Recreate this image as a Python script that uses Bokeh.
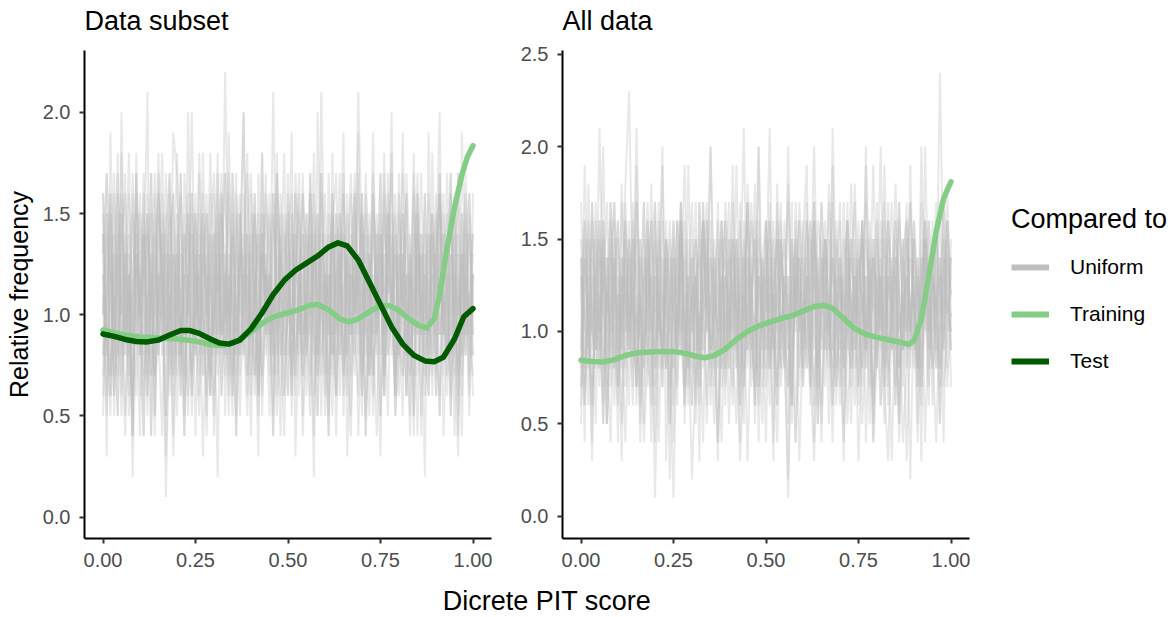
import numpy as np
from bokeh.plotting import figure
from bokeh.models import Range1d, FixedTicker, PrintfTickFormatter, Legend, LegendItem, Label
from bokeh.layouts import row, column
from bokeh.embed import file_html
from bokeh.resources import INLINE

# ---------------- data ----------------
# Uniform reference samples: relative frequency (in tenths) per PIT bin 0.00 .. 1.00
uniform_subset = [
    [6,14,9,16,11,5,13,8,17,10, 4,12,15,7,11,18,9,13,6,10, 15,8,12,5,14,11,17,7,10,13, 4,16,9,12,6,15,10,8,13,18, 7,11,14,5,12,9,16,10,6,13, 15,8,11,17,5,12,14,9,7,16, 10,4,13,11,15,7,12,17,9,6, 14,10,5,16,12,8,15,11,18,7, 10,13,6,14,9,16,5,12,11,15, 8,17,10,6,13,12,4,15,9,11, 14],
    [15,9,5,12,17,8,11,14,6,13, 10,16,7,12,4,15,11,9,17,8, 13,6,14,10,16,9,5,12,15,7, 11,18,8,13,10,6,14,16,9,5, 12,15,7,11,17,10,4,13,8,14, 12,6,16,9,11,15,7,13,5,17, 10,12,8,15,6,14,11,9,16,4, 12,15,7,10,13,5,17,9,11,14, 6,12,16,8,10,15,4,13,11,7, 16,9,14,12,5,10,17,8,13,6, 11],
    [11,5,16,8,13,10,17,6,12,15, 9,4,14,11,7,16,12,5,13,10, 18,8,11,15,6,13,9,16,4,12, 14,7,11,17,9,5,13,15,10,7, 16,12,6,14,9,11,4,17,13,8, 10,15,6,12,16,9,5,14,11,13, 7,17,10,6,15,12,8,4,14,11, 16,9,13,5,12,17,7,10,14,6, 15,11,8,13,4,16,10,12,7,18, 9,5,14,11,16,8,13,6,12,15, 10],
    [10,15,6,12,8,18,9,11,5,13, 10,8,14,12,7,11,16,9,10,4, 12,11,7,20,9,10,13,8,12,6, 11,14,9,10,17,8,12,5,11,13, 9,10,15,7,12,11,8,18,10,6, 12,9,14,11,7,10,13,9,5,12, 16,10,8,11,14,9,6,12,10,19, 8,11,13,7,10,12,9,15,11,5, 10,13,8,12,17,9,11,6,10,14, 12,9,11,8,16,10,7,13,11,9, 12],
    [8,11,13,7,16,10,4,12,9,14, 11,6,10,17,9,12,8,11,13,3, 10,14,9,12,7,11,15,10,8,12, 9,13,6,11,10,14,8,12,20,9, 11,7,10,13,12,8,11,9,15,10, 6,12,11,9,14,8,10,13,11,7, 12,9,16,10,8,11,13,5,12,10, 9,14,11,7,12,10,18,8,11,9, 13,10,6,12,11,9,14,8,10,12, 15,9,11,7,10,13,9,12,8,11, 6],
    [12,9,6,14,10,11,8,13,2,10, 16,9,11,7,12,10,14,1,11,9, 13,8,12,10,6,15,9,11,13,8, 10,12,9,22,11,7,10,13,8,12, 9,11,14,6,10,12,9,16,11,8, 10,13,7,12,9,11,14,10,8,21, 11,9,12,6,13,10,8,12,11,9, 15,10,7,12,9,11,13,8,10,14, 9,12,11,7,10,13,9,11,8,12, 10,16,9,11,7,12,10,13,9,11, 8],
    [13,17,7,11,5,14,9,16,10,6, 15,12,8,17,5,11,14,9,13,16, 7,10,4,15,12,8,18,11,6,14, 9,13,16,5,12,10,7,15,11,17, 8,14,6,13,10,16,9,5,12,15, 11,7,17,13,4,10,16,8,14,12, 6,15,9,11,17,5,13,10,7,16, 12,4,14,9,11,15,6,17,10,13, 8,15,11,5,12,17,9,14,6,10, 13,16,7,11,15,4,12,9,17,8, 12],
    [14,3,19,10,5,20,9,11,4,18, 8,12,21,4,11,17,10,3,9,19, 17,10,4,11,20,9,12,3,10,18, 11,2,16,8,19,10,4,13,20,7, 15,10,3,18,11,9,21,10,4,12, 11,19,3,10,17,8,11,2,20,10, 9,4,18,8,12,19,3,9,11,21, 13,4,10,19,9,3,16,11,20,5, 8,19,10,4,18,7,11,2,19,8, 13,20,4,10,17,8,3,19,11,10, 14],
    [7,11,15,5,13,16,9,12,4,17, 10,14,6,11,15,8,13,5,16,12, 9,17,7,11,14,4,12,15,10,6, 16,9,13,11,5,17,8,14,10,12, 4,15,11,7,16,13,9,6,14,10, 17,5,12,15,8,11,16,6,10,14, 13,7,16,4,12,10,15,9,17,11, 5,13,8,16,10,14,6,12,15,9, 17,7,11,13,5,14,10,16,8,12, 6,15,9,13,17,7,11,4,14,16, 9],
    [16,8,12,6,15,10,13,5,11,17, 8,14,12,4,16,9,11,15,7,13, 10,17,5,12,15,9,7,14,11,16, 6,10,13,17,8,12,5,15,9,14, 11,6,17,10,13,7,15,12,9,4, 14,16,8,11,13,6,17,10,15,9, 12,5,14,11,8,16,7,13,10,17, 6,12,15,9,4,14,11,16,8,13, 10,5,17,12,7,15,9,11,14,6, 13,16,10,8,12,15,5,11,14,9, 7],
    [14,6,11,17,8,13,5,10,15,9, 12,4,16,10,7,13,18,8,11,6, 14,9,12,16,5,10,13,7,15,11, 8,17,6,12,10,14,4,11,16,9, 13,7,10,18,8,12,5,14,11,9, 16,6,13,10,8,15,11,4,12,17, 9,14,7,10,13,6,16,11,8,12, 15,5,10,14,9,17,7,12,11,6, 13,10,16,8,12,4,14,11,9,15, 7,13,10,17,6,11,14,8,12,5, 16],
    [5,12,16,9,14,7,11,18,6,13, 10,15,8,12,17,9,4,14,11,7, 13,16,10,6,12,15,8,11,5,14, 17,9,12,7,13,10,16,8,11,14, 6,12,9,15,11,5,13,17,8,10, 14,7,12,16,9,11,6,13,15,8, 10,12,5,14,9,17,11,7,13,10, 16,8,12,6,14,11,9,15,13,7, 10,17,8,12,5,14,11,9,16,10, 13,6,15,8,12,10,17,7,11,14, 9],
    [16,9,7,13,11,15,8,12,4,14, 10,17,6,11,13,9,15,12,8,16, 5,11,14,10,7,13,9,18,11,6, 12,15,9,10,16,7,13,11,8,14, 17,10,5,12,15,9,11,7,16,13, 8,10,14,6,12,9,17,11,13,5, 14,10,8,15,12,7,11,16,9,13, 6,12,10,17,8,14,11,5,13,15, 9,7,12,11,16,10,13,8,6,14, 11,17,9,12,5,15,10,13,8,16, 11],
    [10,17,13,6,9,15,12,7,16,11, 8,14,5,13,10,16,12,9,15,7, 11,6,17,13,10,8,14,12,16,9, 5,11,15,13,7,17,9,12,14,6, 10,16,8,13,11,15,7,9,12,18, 6,14,10,8,16,13,9,15,7,11, 12,6,14,17,10,8,13,9,15,11, 7,16,12,10,14,5,9,13,17,8, 12,15,6,11,14,10,8,16,9,13, 12,5,11,15,9,14,7,12,16,10, 13],
    [12,8,15,10,18,6,14,11,9,16, 13,7,10,15,5,12,9,14,17,10, 8,13,6,11,16,12,9,15,10,7, 14,11,17,8,12,6,15,10,13,9, 11,16,7,14,10,12,8,15,13,6, 11,9,16,12,7,14,10,18,8,13, 5,11,15,9,12,16,8,14,10,13, 7,17,11,9,15,12,6,13,10,16, 8,11,14,7,13,10,17,9,12,15, 6,14,10,12,8,16,11,9,15,7, 12],
    [8,15,12,10,7,14,16,9,11,13, 6,12,15,9,14,8,11,17,10,13, 12,7,15,11,9,16,6,13,10,14, 12,8,15,11,9,13,17,7,12,10, 14,11,6,15,9,12,16,8,13,11, 10,15,7,12,14,9,11,16,8,13, 12,10,15,6,11,14,9,13,16,8, 11,12,7,15,10,13,9,14,11,6, 16,10,12,8,15,11,13,7,14,10, 9,12,16,8,13,11,6,15,10,14, 8],
]

uniform_all = [
    [12,6,15,9,17,11,5,14,8,13, 16,10,4,12,15,7,11,17,9,6, 14,12,8,16,5,13,10,15,7,12, 17,9,11,4,14,16,8,10,13,6, 15,12,9,17,7,11,14,5,13,10, 16,8,12,6,15,11,9,17,4,13, 10,14,7,16,12,5,11,15,9,13, 6,17,10,8,14,12,16,4,11,15, 9,13,7,12,17,10,5,14,11,8, 16,12,6,15,9,13,11,17,7,10, 14],
    [8,16,11,4,13,15,7,12,17,9, 6,14,10,16,8,12,5,15,11,13, 7,17,9,14,12,4,16,10,6,15, 11,13,8,17,5,12,14,9,16,7, 10,15,12,4,13,17,8,11,6,14, 16,9,12,15,7,10,13,5,17,11, 8,14,16,6,12,9,15,11,4,13, 17,7,10,14,12,6,16,9,13,5, 15,11,8,17,12,10,6,14,16,9, 11,4,13,15,8,12,17,7,10,14, 12],
    [14,10,6,17,12,8,15,5,11,16, 9,13,7,15,11,17,4,12,14,10, 6,16,13,8,11,15,9,17,5,12, 14,7,10,16,13,6,11,15,8,12, 17,9,5,14,10,16,12,7,13,11, 4,15,9,13,17,8,12,6,14,10, 16,11,7,15,5,13,12,17,9,10, 14,8,16,11,6,13,15,9,12,4, 10,16,14,7,11,13,5,15,9,17, 12,8,14,10,16,6,12,13,4,15, 11],
    [6,14,10,17,9,12,5,11,15,8, 13,10,18,23,11,7,12,9,16,10, 4,12,9,14,8,1,11,13,7,19, 10,12,6,11,15,9,10,3,13,11, 8,17,10,12,5,14,9,11,20,8, 12,10,15,7,11,9,2,13,10,16, 8,12,11,4,14,10,9,18,12,7, 11,13,5,10,15,9,12,8,11,19, 10,6,13,11,9,14,8,12,3,10, 15,11,9,16,12,8,10,24,13,11, 12],
    [13,8,11,6,12,10,16,9,4,13, 11,8,14,10,12,7,15,11,9,13, 1,10,14,8,12,11,9,16,10,6, 13,11,8,17,10,12,9,14,7,11, 10,15,8,12,21,9,11,6,13,10, 14,8,12,10,16,9,1,11,13,8, 12,17,10,7,11,14,9,12,6,10, 13,8,15,11,9,12,5,10,14,11, 8,13,10,16,12,7,11,9,15,10, 12,8,14,4,11,13,9,10,12,7, 11],
    [5,13,16,10,8,14,12,17,7,11, 15,9,13,6,16,10,12,8,14,4, 17,11,9,15,13,6,12,16,10,8, 14,5,17,11,12,15,7,9,13,16, 10,6,14,12,8,17,11,15,4,13, 9,16,10,7,14,12,5,15,11,17, 13,8,10,16,6,14,12,9,17,11, 7,15,13,5,12,10,16,8,14,11, 17,6,12,15,9,13,4,11,16,10, 14,8,17,12,6,15,10,13,9,16, 7],
    [17,10,13,7,11,15,6,14,9,12, 16,5,11,14,9,17,12,7,15,10, 13,8,16,11,5,14,12,17,9,13, 6,15,10,12,16,8,14,4,11,17, 13,9,15,6,12,10,16,14,7,11, 15,12,4,17,9,13,11,6,16,10, 14,8,12,17,5,11,15,13,6,16, 10,12,9,14,17,7,11,13,5,15, 12,10,16,8,14,6,17,11,13,9, 15,5,12,16,10,14,8,11,17,13, 9],
    [14,4,18,10,9,21,11,5,13,17, 12,3,17,11,7,19,10,4,9,18, 8,11,20,3,12,16,7,12,19,10, 2,8,17,9,11,20,10,4,12,15, 9,19,10,3,8,18,14,6,20,11, 7,12,3,18,11,8,20,9,4,10, 15,19,8,3,10,17,13,5,21,12, 10,4,9,18,12,3,10,19,11,6, 12,20,7,3,11,18,12,4,8,19, 10,13,3,20,11,8,14,5,12,18, 9],
    [10,15,8,13,5,16,11,9,14,17, 7,12,16,10,13,6,15,9,11,14, 17,4,12,15,10,8,16,13,6,11, 15,12,9,14,17,10,5,13,16,8, 12,15,11,6,14,9,17,12,10,5, 13,16,8,12,15,10,7,14,11,16, 9,13,6,15,12,17,10,8,14,11, 16,5,13,12,9,15,11,17,7,14, 12,9,15,6,13,16,10,12,8,15, 11,14,7,16,10,13,12,5,15,11, 13],
    [7,19,11,3,15,10,20,8,11,14, 4,18,12,9,11,21,10,5,15,11, 9,12,19,11,2,14,9,17,11,8, 10,13,3,16,11,20,12,10,4,13, 11,10,19,8,12,3,11,18,10,7, 12,21,9,4,10,12,18,11,13,3, 10,16,12,20,11,4,13,9,19,7, 11,3,14,9,18,11,8,20,10,4, 9,11,19,10,3,12,17,9,13,2, 12,8,20,11,14,9,4,11,17,10, 11],
    [15,7,12,10,16,9,13,5,11,14, 8,17,10,12,6,15,11,9,13,7, 16,10,12,8,14,11,6,15,9,13, 10,17,7,12,14,9,11,16,8,13, 5,12,15,10,7,14,11,9,16,12, 8,13,10,6,15,11,17,9,12,14, 7,10,13,16,8,11,15,9,12,6, 14,10,17,8,13,11,7,15,12,9, 16,10,5,13,11,14,8,12,17,10, 13,7,15,11,9,16,12,8,14,11, 10],
    [9,14,11,6,13,16,8,12,10,15, 7,11,14,9,17,12,6,13,10,16, 8,15,11,12,7,14,9,16,13,10, 6,12,15,8,11,14,10,17,9,13, 12,7,15,10,14,8,11,16,12,9, 13,6,14,11,8,16,10,12,15,7, 11,13,9,17,12,6,14,10,15,8, 12,11,16,9,13,7,15,11,10,14, 8,12,17,9,11,6,13,15,10,12, 9,14,7,11,16,13,10,8,15,12, 14],
    [12,16,8,14,10,7,15,11,13,6, 12,9,16,10,14,8,11,17,7,13, 15,11,9,12,16,8,14,10,12,7, 13,15,9,11,6,14,12,10,16,8, 15,11,13,9,12,17,7,10,14,11, 16,8,12,15,10,13,9,6,14,12, 10,16,8,13,11,15,7,12,14,10, 9,13,16,11,8,14,12,10,15,7, 13,11,9,16,12,14,8,10,13,17, 11,9,12,15,7,13,11,14,10,16, 12],
    [10,6,13,15,9,11,14,7,16,12, 10,13,8,15,11,9,14,12,17,8, 13,10,7,15,12,11,16,9,14,8, 12,6,13,16,10,11,15,8,12,14, 9,13,11,7,16,10,12,15,8,14, 11,17,9,12,13,10,7,15,11,14, 9,12,16,10,8,13,15,11,7,12, 14,9,11,15,10,16,8,13,12,6, 11,14,10,13,9,16,12,7,15,11, 8,13,10,14,12,9,16,11,13,8, 15],
    [13,11,9,16,12,8,14,10,17,11, 7,14,12,9,15,13,10,8,16,12, 11,14,7,13,10,16,12,9,15,11, 8,13,14,10,16,7,12,11,15,9, 14,12,8,16,11,13,10,7,15,12, 9,14,11,16,8,12,13,10,15,11, 7,13,12,9,16,14,10,11,8,15, 12,10,14,7,13,11,16,9,12,14, 10,15,8,13,11,9,16,12,10,14, 11,7,13,15,10,12,8,14,11,16, 13],
    [7,12,15,10,13,9,16,11,14,8, 12,10,15,13,9,11,7,14,12,16, 10,13,8,12,15,11,9,14,16,10, 12,13,7,15,11,9,13,12,10,16, 8,14,11,12,15,9,13,10,7,14, 12,11,16,9,13,15,10,8,12,14, 11,9,15,13,7,12,16,10,14,11, 13,8,12,15,10,14,11,9,16,12, 10,13,7,14,11,15,12,9,13,10, 16,11,8,14,12,10,15,13,9,12, 10],
]

# Smoothed relative frequency curves
test_subset_x = [0.00, 0.03, 0.06, 0.09, 0.12, 0.15, 0.18, 0.21, 0.235, 0.26, 0.29, 0.315, 0.34, 0.37,
                 0.40, 0.43, 0.46, 0.49, 0.52, 0.55, 0.58, 0.61, 0.635, 0.66, 0.69, 0.72, 0.75, 0.78,
                 0.81, 0.84, 0.87, 0.895, 0.92, 0.95, 0.975, 1.00]
test_subset_y = [0.905, 0.893, 0.878, 0.868, 0.866, 0.875, 0.900, 0.922, 0.922, 0.908, 0.880, 0.860, 0.855, 0.875,
                 0.930, 1.010, 1.100, 1.170, 1.220, 1.255, 1.290, 1.335, 1.355, 1.340, 1.270, 1.160, 1.050, 0.940,
                 0.855, 0.800, 0.772, 0.768, 0.790, 0.880, 0.990, 1.030]

train_subset_x = [0.00, 0.03, 0.06, 0.10, 0.15, 0.20, 0.25, 0.29, 0.32, 0.35, 0.38, 0.41, 0.44, 0.47,
                  0.50, 0.53, 0.56, 0.58, 0.61, 0.64, 0.665, 0.69, 0.72, 0.75, 0.775, 0.80, 0.83, 0.855,
                  0.875, 0.895, 0.91, 0.93, 0.95, 0.97, 0.985, 1.00]
train_subset_y = [0.925, 0.912, 0.900, 0.890, 0.885, 0.880, 0.870, 0.852, 0.848, 0.860, 0.890, 0.930, 0.970, 0.995,
                  1.010, 1.025, 1.048, 1.050, 1.025, 0.980, 0.965, 0.980, 1.015, 1.045, 1.045, 1.020, 0.975, 0.945,
                  0.935, 0.980, 1.100, 1.330, 1.530, 1.690, 1.780, 1.835]

train_all_x = [0.00, 0.03, 0.06, 0.09, 0.12, 0.15, 0.20, 0.25, 0.28, 0.31, 0.335, 0.36, 0.39, 0.42,
               0.45, 0.48, 0.51, 0.54, 0.57, 0.60, 0.63, 0.655, 0.68, 0.71, 0.74, 0.77, 0.80, 0.83,
               0.86, 0.885, 0.90, 0.92, 0.94, 0.96, 0.98, 1.00]
train_all_y = [0.844, 0.838, 0.835, 0.848, 0.870, 0.885, 0.890, 0.891, 0.882, 0.866, 0.858, 0.870, 0.905, 0.957,
               1.000, 1.030, 1.050, 1.070, 1.085, 1.110, 1.135, 1.142, 1.125, 1.070, 1.015, 0.985, 0.968, 0.955,
               0.943, 0.930, 0.950, 1.070, 1.300, 1.540, 1.720, 1.810]

x_ticks = [0.0, 0.25, 0.5, 0.75, 1.0]
y_ticks_subset = [0.0, 0.5, 1.0, 1.5, 2.0]
y_ticks_all = [0.0, 0.5, 1.0, 1.5, 2.0, 2.5]
panel_titles = ["Data subset", "All data"]

# ---------------- style ----------------
FONT = "Liberation Sans"
GREY = "#BEBEBE"
LIGHT_GREEN = "#85CD86"
DARK_GREEN = "#005A00"
HEAD_H = 40
ROW_H = 536


def blank(width, height):
    f = figure(width=width, height=height, output_backend="svg", toolbar_location=None,
               x_range=Range1d(0, width), y_range=Range1d(0, height),
               x_axis_location=None, y_axis_location=None, min_border=0)
    f.xgrid.visible = False
    f.ygrid.visible = False
    f.outline_line_color = None
    return f


def make_panel(yrange, yticks, uniform, curves, width, left, right, ylabel=None):
    p = figure(width=width, height=ROW_H, output_backend="svg", toolbar_location=None,
               x_range=Range1d(-0.05, 1.05), y_range=Range1d(*yrange),
               min_border_left=left, min_border_right=right, min_border_top=10, min_border_bottom=38)
    p.xgrid.visible = False
    p.ygrid.visible = False
    p.outline_line_color = None
    p.background_fill_color = "white"
    p.border_fill_color = "white"

    for line in uniform:
        xs = np.linspace(0.0, 1.0, len(line))
        ys = np.array(line) / 10.0
        p.line(xs, ys, line_color=GREY, line_alpha=0.35, line_width=2)

    for xs, ys, col in curves:
        p.line(xs, ys, line_color=col, line_width=5.5, line_join="round", line_cap="round")

    p.xaxis.ticker = FixedTicker(ticks=x_ticks)
    p.xaxis.formatter = PrintfTickFormatter(format="%.2f")
    p.yaxis.ticker = FixedTicker(ticks=yticks)
    p.yaxis.formatter = PrintfTickFormatter(format="%.1f")
    for ax in (p.xaxis[0], p.yaxis[0]):
        ax.axis_line_color = "#000000"
        ax.axis_line_width = 2
        ax.major_tick_line_color = "#333333"
        ax.major_tick_line_width = 2
        ax.major_tick_in = 0
        ax.major_tick_out = 5
        ax.minor_tick_line_color = None
        ax.major_label_text_font = FONT
        ax.major_label_text_font_size = "20px"
        ax.major_label_text_color = "#4D4D4D"
    p.xaxis.major_label_standoff = 9
    p.yaxis.major_label_standoff = 9
    if ylabel:
        p.yaxis.axis_label = ylabel
        p.yaxis.axis_label_text_font = FONT
        p.yaxis.axis_label_text_font_size = "25px"
        p.yaxis.axis_label_text_font_style = "normal"
        p.yaxis.axis_label_text_color = "#000000"
        p.yaxis.axis_label_standoff = 7
    return p


# Panel titles (header strip)
head = blank(1165, HEAD_H)
for tx, tt in zip([84, 562], panel_titles):
    head.add_layout(Label(x=tx, y=5, text=tt, text_align="left", text_baseline="bottom",
                          text_font=FONT, text_font_size="27px", text_color="#000000"))

p1 = make_panel((-0.105, 2.305), y_ticks_subset, uniform_subset,
                [(train_subset_x, train_subset_y, LIGHT_GREEN), (test_subset_x, test_subset_y, DARK_GREEN)],
                width=500, left=84, right=9, ylabel="Relative frequency")
p2 = make_panel((-0.12, 2.52), y_ticks_all, uniform_all,
                [(train_all_x, train_all_y, LIGHT_GREEN)],
                width=485, left=62, right=16)

# Legend figure
leg = figure(width=185, height=ROW_H, output_backend="svg", toolbar_location=None,
             x_range=Range1d(0, 1), y_range=Range1d(0, 1),
             x_axis_location=None, y_axis_location=None, min_border=0)
leg.xgrid.visible = False
leg.ygrid.visible = False
leg.outline_line_color = None
r_u = leg.line(x=[-10, -9], y=[-10, -10], line_color=GREY, line_width=6)
r_tr = leg.line(x=[-10, -9], y=[-10, -10], line_color=LIGHT_GREEN, line_width=6)
r_te = leg.line(x=[-10, -9], y=[-10, -10], line_color=DARK_GREEN, line_width=6)
legend = Legend(items=[LegendItem(label="Uniform", renderers=[r_u]),
                       LegendItem(label="Training", renderers=[r_tr]),
                       LegendItem(label="Test", renderers=[r_te])],
                location=(26, 157), title="Compared to",
                title_text_font=FONT, title_text_font_size="27px", title_text_font_style="normal",
                title_text_color="#000000", title_standoff=12,
                label_text_font=FONT, label_text_font_size="21px", label_text_color="#000000",
                glyph_width=38, glyph_height=40, label_height=40, label_standoff=21, spacing=7,
                padding=0, margin=0, border_line_color=None, background_fill_alpha=0)
leg.add_layout(legend)

# Shared x-axis title
lab = blank(1165, 40)
lab.add_layout(Label(x=546.5, y=1, text="Dicrete PIT score", text_align="center", text_baseline="bottom",
                     text_font=FONT, text_font_size="27px", text_color="#000000"))

layout = column(head, row(p1, p2, leg), lab)
open("out.html", "w").write(file_html(layout, INLINE))
